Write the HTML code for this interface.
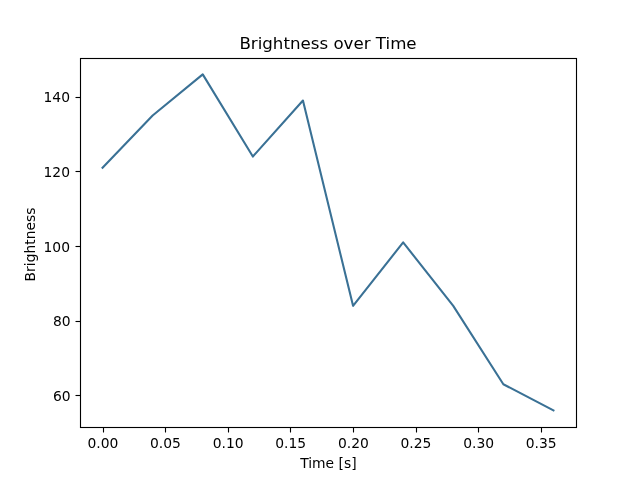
<!DOCTYPE html>
<html lang="en"><head><meta charset="utf-8"><title>Brightness over Time</title>
<style>
html,body{margin:0;padding:0;background:#fff;overflow:hidden}
svg{display:block}
text{font-family:"DejaVu Sans","Liberation Sans",sans-serif;fill:#000}
.t{font-size:13.889px}
.h{font-size:16.667px}
</style></head><body>
<svg width="640" height="480" viewBox="0 0 640 480">
<rect width="640" height="480" fill="#fff"/>
<g stroke="#000" stroke-width="1.111" fill="none">
<line x1="103.500" y1="427.5" x2="103.500" y2="432.500"/>
<line x1="165.500" y1="427.5" x2="165.500" y2="432.500"/>
<line x1="228.500" y1="427.5" x2="228.500" y2="432.500"/>
<line x1="290.500" y1="427.5" x2="290.500" y2="432.500"/>
<line x1="353.500" y1="427.5" x2="353.500" y2="432.500"/>
<line x1="416.500" y1="427.5" x2="416.500" y2="432.500"/>
<line x1="478.500" y1="427.5" x2="478.500" y2="432.500"/>
<line x1="541.500" y1="427.5" x2="541.500" y2="432.500"/>
<line x1="80.5" y1="395.500" x2="75.500" y2="395.500"/>
<line x1="80.5" y1="321.500" x2="75.500" y2="321.500"/>
<line x1="80.5" y1="246.500" x2="75.500" y2="246.500"/>
<line x1="80.5" y1="171.500" x2="75.500" y2="171.500"/>
<line x1="80.5" y1="97.500" x2="75.500" y2="97.500"/>
</g>
<g class="t" text-anchor="middle">
<text x="102.845" y="448">0.00</text>
<text x="165.472" y="448">0.05</text>
<text x="228.098" y="448">0.10</text>
<text x="290.724" y="448">0.15</text>
<text x="353.351" y="448">0.20</text>
<text x="415.977" y="448">0.25</text>
<text x="478.603" y="448">0.30</text>
<text x="541.229" y="448">0.35</text>
<text x="328.400" y="468">Time [s]</text>
</g>
<g class="t" text-anchor="end">
<text x="70.578" y="401">60</text>
<text x="70.578" y="326">80</text>
<text x="69.978" y="252">100</text>
<text x="69.978" y="177">120</text>
<text x="69.978" y="102">140</text>
</g>
<text class="t" text-anchor="middle" x="35.323" y="244.500" transform="rotate(-90 35.323 244.500)">Brightness</text>
<polyline points="102.545,167.733 152.646,115.467 202.747,74.400 252.848,156.533 302.949,100.533 353.051,305.867 403.152,242.400 453.253,305.867 503.354,384.267 553.455,410.400" fill="none" stroke="#3a7195" stroke-width="2.083" stroke-linejoin="round" stroke-linecap="square"/>
<rect x="80.5" y="58.5" width="496.0" height="369.000" fill="none" stroke="#000" stroke-width="1.111" stroke-linejoin="miter"/>
<text class="h" text-anchor="middle" x="328.000" y="49">Brightness over Time</text>
</svg></body></html>
